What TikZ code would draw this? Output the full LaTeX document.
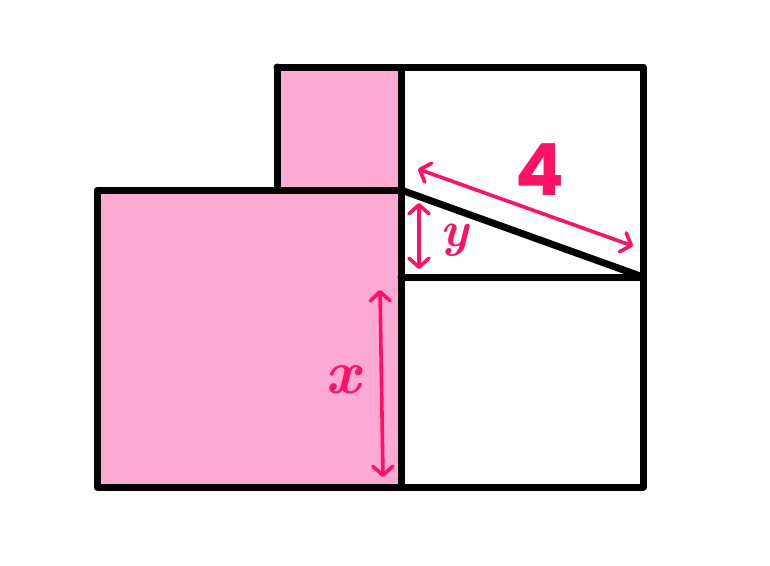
\documentclass[tikz,border=0pt]{standalone}
\usepackage{fontspec}
\usetikzlibrary{arrows.meta}
\newfontfamily\labfont{Poppins}
\definecolor{pinkfill}{HTML}{FFA9D3}
\definecolor{mag}{HTML}{FF1165}
\begin{document}
\begin{tikzpicture}[x=1pt,y=-1pt,
  edge/.style={line width=7pt,line join=round,line cap=round,draw=black},
  dim/.style={mag,line width=3.6pt,line cap=round,
    {Straight Barb[length=9pt,width=20pt,line width=3.6pt,round]}-{Straight Barb[length=9pt,width=20pt,line width=3.6pt,round]}},
  lab/.style={text=mag,inner sep=0pt}]
\useasboundingbox (0,0) rectangle (770,565);
% corner coordinates
\coordinate (A) at (97,190);
\coordinate (B) at (401,190);
\coordinate (C) at (401,487);
\coordinate (D) at (97,487);
\coordinate (E) at (277,67);
\coordinate (F) at (401,67);
\coordinate (G) at (643,67);
\coordinate (H) at (643,277);
\coordinate (I) at (401,277);
\coordinate (J) at (643,487);
% fills
\fill[pinkfill] (A) rectangle (C);
\fill[pinkfill] (E) rectangle (B);
% outlines
\draw[edge] (A) rectangle (C);
\draw[edge] (E) -- (F) -- (B);
\draw[edge] (E) -- (277,190);
\draw[edge] (F) -- (G) -- (J) -- (C);
\draw[edge] (I) -- (H);
\draw[edge] (B) -- (H);
% dimension arrows
\coordinate (f1) at (418,169);
\coordinate (f2) at (633,246);
\draw[dim] (f1) -- (f2);
\coordinate (y1) at (419,203);
\coordinate (y2) at (419,269);
\draw[dim] (y1) -- (y2);
\coordinate (x1) at (380,290);
\coordinate (x2) at (383,477);
\draw[dim] (x1) -- (x2);
% labels
\node[lab,font=\labfont\bfseries\fontsize{72}{72}\selectfont] (four) at (540,170) {4};
\node[lab,font=\fontsize{50}{50}\selectfont\bfseries\itshape] (ylab) at (455,240) {y};
\node[lab,font=\fontsize{62}{62}\selectfont\bfseries\itshape] (xlab) at (343,380) {x};
\end{tikzpicture}
\end{document}
